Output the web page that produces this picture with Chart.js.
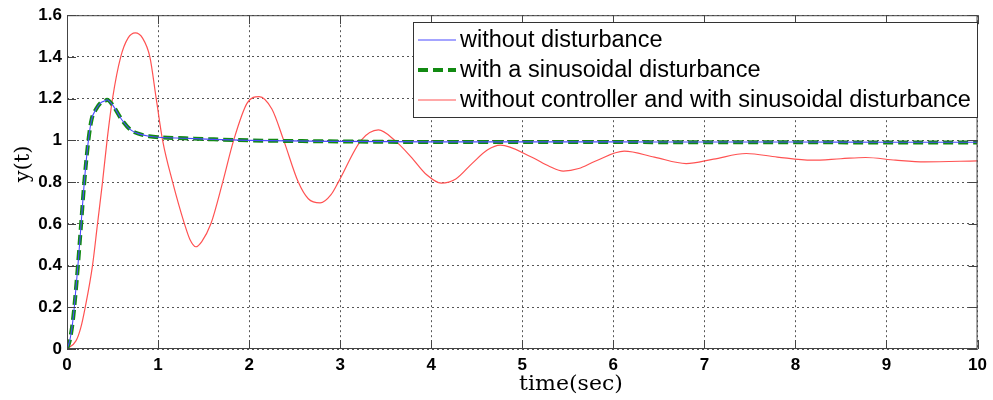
<!DOCTYPE html>
<html>
<head>
<meta charset="utf-8">
<script src="https://cdn.jsdelivr.net/npm/chart.js@4.4.1/dist/chart.umd.min.js"></script>
<style>
html,body{margin:0;padding:0;background:#fff;}
#wrap{width:993px;height:400px;position:relative;}
</style>
</head>
<body>
<div id="wrap"><canvas id="c" width="993" height="400"></canvas></div>
<script>
// ---- data ----
const seriesLabels = ["without disturbance", "with a sinusoidal disturbance", "without controller and with sinusoidal disturbance"];
const xTicks = [0,1,2,3,4,5,6,7,8,9,10];
const yTicks = [0,0.2,0.4,0.6,0.8,1,1.2,1.4,1.6];

const tCtrl  = [0, 0.03, 0.06, 0.08, 0.12, 0.155, 0.19, 0.235, 0.27, 0.32, 0.37, 0.42, 0.44, 0.5, 0.6, 0.7, 0.8, 0.9, 1.0, 1.3, 1.6, 2, 3, 4, 5, 6, 7, 8, 9, 10];
const yNoDist = [0, 0.04, 0.12, 0.2, 0.4, 0.6, 0.8, 1.0, 1.1, 1.15, 1.18, 1.19, 1.195, 1.17, 1.1, 1.05, 1.03, 1.02, 1.015, 1.01, 1.005, 1.0, 0.995, 0.993, 0.993, 0.993, 0.992, 0.992, 0.991, 0.991];
const ySinDist = [0, 0.04, 0.12, 0.2, 0.4, 0.6, 0.8, 1.0, 1.1, 1.15, 1.18, 1.19, 1.195, 1.17, 1.1, 1.05, 1.03, 1.02, 1.015, 1.01, 1.005, 1.0, 0.995, 0.992, 0.992, 0.992, 0.991, 0.991, 0.99, 0.99];

const tOpen = [0, 0.1, 0.15, 0.2, 0.28, 0.335, 0.39, 0.44, 0.5, 0.59, 0.67, 0.75, 0.83, 0.91, 0.98, 1.05, 1.16, 1.29, 1.35, 1.415, 1.48, 1.58, 1.71, 1.83, 1.98, 2.11, 2.25, 2.38, 2.54, 2.65, 2.78, 2.9, 2.98, 3.23, 3.42, 3.6, 3.78, 3.95, 4.11, 4.27, 4.45, 4.62, 4.76, 5.1, 5.3, 5.45, 5.62, 5.8, 6.12, 6.45, 6.8, 7.1, 7.46, 7.8, 8.18, 8.5, 8.77, 9.1, 9.42, 10];
const yOpen = [0, 0.04, 0.1, 0.2, 0.4, 0.6, 0.8, 1.0, 1.2, 1.4, 1.49, 1.515, 1.49, 1.4, 1.2, 1.0, 0.8, 0.6, 0.525, 0.49, 0.515, 0.6, 0.8, 1.0, 1.18, 1.21, 1.15, 1.0, 0.8, 0.72, 0.70, 0.74, 0.8, 1.0, 1.05, 1.0, 0.92, 0.835, 0.795, 0.815, 0.89, 0.955, 0.977, 0.92, 0.875, 0.853, 0.865, 0.9, 0.948, 0.92, 0.889, 0.91, 0.937, 0.92, 0.905, 0.912, 0.918, 0.905, 0.897, 0.902];

const toXY = (xs, ys) => xs.map((x, i) => ({x: x, y: ys[i]}));

const styles = [
  {color: '#4a4aff', width: 1.1, dash: []},
  {color: '#128a12', width: 4, dash: [10, 5]},
  {color: '#ff5252', width: 1.2, dash: []}
];

const decorPlugin = {
  id: 'decor',
  afterDatasetsDraw(chart) {
    const ctx = chart.ctx, a = chart.chartArea;
    const xs = chart.scales.x, ys = chart.scales.y;
    ctx.save();
    // frame
    ctx.strokeStyle = '#444'; ctx.lineWidth = 1; ctx.setLineDash([]);
    ctx.strokeRect(a.left + 0.5, a.top + 0.5, a.right - a.left - 1, a.bottom - a.top - 1);
    // inward ticks
    const L = 9;
    ctx.beginPath();
    xTicks.forEach(v => {
      const px = Math.round(xs.getPixelForValue(v)) + 0.5;
      ctx.moveTo(px, a.bottom); ctx.lineTo(px, a.bottom - L);
      ctx.moveTo(px, a.top); ctx.lineTo(px, a.top + L);
    });
    yTicks.forEach(v => {
      const py = Math.round(ys.getPixelForValue(v)) + 0.5;
      ctx.moveTo(a.left, py); ctx.lineTo(a.left + L, py);
      ctx.moveTo(a.right, py); ctx.lineTo(a.right - L, py);
    });
    ctx.stroke();

    // legend box
    const bx = 413, by = 22, bw = 564, bh = 95;
    ctx.fillStyle = '#fff';
    ctx.fillRect(bx, by, bw, bh);
    ctx.strokeStyle = '#333';
    ctx.strokeRect(bx + 0.5, by + 0.5, bw, bh);
    ctx.font = '23.5px "Liberation Sans", Arial, sans-serif';
    ctx.textBaseline = 'middle';
    ctx.fillStyle = '#000';
    chart.data.datasets.forEach((ds, i) => {
      const yy = 40 + i * 30;
      ctx.save();
      ctx.strokeStyle = ds.borderColor;
      ctx.lineWidth = ds.borderWidth;
      ctx.setLineDash(ds.borderDash || []);
      ctx.beginPath();
      ctx.moveTo(418, yy); ctx.lineTo(456, yy);
      ctx.stroke();
      ctx.restore();
      ctx.fillText(ds.label, 460, yy + 1);
    });

    // axis titles
    ctx.fillStyle = '#000';
    ctx.font = '21px "DejaVu Serif", "Liberation Serif", serif';
    ctx.textAlign = 'center';
    ctx.textBaseline = 'alphabetic';
    ctx.save();
    ctx.translate(571, 390);
    ctx.scale(1.05, 1);
    ctx.fillText('time(sec)', 0, 0);
    ctx.restore();
    ctx.save();
    ctx.translate(29, 164);
    ctx.rotate(-Math.PI / 2);
    ctx.fillText('y(t)', 0, 0);
    ctx.restore();
    ctx.restore();
  }
};

new Chart(document.getElementById('c'), {
  type: 'line',
  data: {
    datasets: [
      {label: seriesLabels[0], data: toXY(tCtrl, yNoDist)},
      {label: seriesLabels[1], data: toXY(tCtrl, ySinDist)},
      {label: seriesLabels[2], data: toXY(tOpen, yOpen)}
    ].map((d, i) => Object.assign(d, {
      borderColor: styles[i].color,
      borderWidth: styles[i].width,
      borderDash: styles[i].dash,
      pointRadius: 0,
      fill: false,
      cubicInterpolationMode: 'monotone'
    }))
  },
  options: {
    responsive: false,
    animation: false,
    layout: {padding: {top: 15, right: 11, left: 0, bottom: 0}},
    plugins: {legend: {display: false}, tooltip: {enabled: false}},
    scales: {
      x: {
        type: 'linear', min: 0, max: 10,
        afterFit(s) { s.height = 51; },
        afterBuildTicks(s) { s.ticks = xTicks.map(v => ({value: v})); },
        ticks: {color: '#000', padding: 6, font: {family: '"Liberation Sans", Arial, sans-serif', size: 17, weight: 'bold'}, maxRotation: 0},
        grid: {color: '#555', lineWidth: 1, drawTicks: false},
        border: {display: false, dash: [2, 3]}
      },
      y: {
        type: 'linear', min: 0, max: 1.6,
        afterFit(s) { s.width = 67; },
        afterBuildTicks(s) { s.ticks = yTicks.map(v => ({value: v})); },
        ticks: {color: '#000', padding: 5, font: {family: '"Liberation Sans", Arial, sans-serif', size: 17, weight: 'bold'},
          callback: v => String(Math.round(v * 10) / 10)},
        grid: {color: '#555', lineWidth: 1, drawTicks: false},
        border: {display: false, dash: [2, 3]}
      }
    }
  },
  plugins: [decorPlugin]
});
</script>
</body>
</html>
